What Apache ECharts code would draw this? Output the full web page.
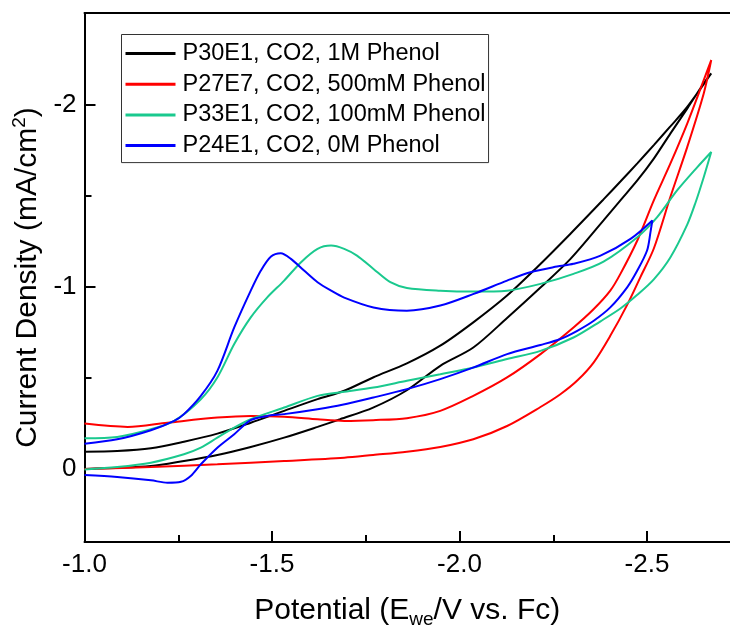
<!DOCTYPE html>
<html>
<head>
<meta charset="utf-8">
<script src="https://cdn.jsdelivr.net/npm/echarts@6/dist/echarts.min.js"></script>
<style>
  html, body { margin: 0; padding: 0; background: #fff; }
  #chart { width: 730px; height: 629px; }
</style>
</head>
<body>
<div id="chart"></div>
<script>
// axis labels / tick spacing
const xLabels = [-1.0, -1.5, -2.0, -2.5]
const yLabels = [0, -1, -2]
const xMajorStep = 0.5
const yMajorStep = 1

const legendNames = [
  'P30E1, CO2, 1M Phenol',
  'P27E7, CO2, 500mM Phenol',
  'P33E1, CO2, 100mM Phenol',
  'P24E1, CO2, 0M Phenol'
]

// P30E1 (1M phenol): forward scan then return scan
const p30E = [-1.0, -1.087, -1.177, -1.265, -1.354, -1.443, -1.532, -1.621, -1.692, -1.769, -1.859, -1.948, -2.036, -2.126, -2.206, -2.295, -2.383, -2.428, -2.473, -2.517, -2.561, -2.606, -2.670,
  -2.650, -2.606, -2.561, -2.517, -2.473, -2.428, -2.383, -2.295, -2.215, -2.126, -2.036, -1.948, -1.859, -1.769, -1.681, -1.621, -1.532, -1.443, -1.354, -1.265, -1.177, -1.0]
const p30J = [-0.095, -0.099, -0.114, -0.150, -0.194, -0.254, -0.319, -0.383, -0.429, -0.502, -0.579, -0.676, -0.804, -0.951, -1.106, -1.290, -1.478, -1.576, -1.676, -1.776, -1.878, -1.985, -2.169,
  -2.114, -1.976, -1.839, -1.702, -1.582, -1.473, -1.363, -1.152, -0.995, -0.828, -0.666, -0.566, -0.432, -0.337, -0.273, -0.231, -0.172, -0.121, -0.077, -0.044, -0.016, 0.0]

// P27E7 (500mM phenol)
const p27E = [-1.0, -1.115, -1.221, -1.354, -1.443, -1.532, -1.621, -1.692, -1.769, -1.859, -1.948, -2.036, -2.126, -2.215, -2.303, -2.357, -2.401, -2.428, -2.473, -2.517, -2.561, -2.606, -2.650, -2.670,
  -2.650, -2.606, -2.561, -2.517, -2.481, -2.446, -2.401, -2.357, -2.313, -2.268, -2.215, -2.126, -2.036, -1.948, -1.859, -1.769, -1.692, -1.532, -1.354, -1.177, -1.0]
const p27J = [-0.249, -0.231, -0.254, -0.282, -0.291, -0.287, -0.273, -0.264, -0.268, -0.279, -0.319, -0.401, -0.502, -0.630, -0.776, -0.877, -0.978, -1.070, -1.253, -1.473, -1.674, -1.894, -2.132, -2.242,
  -2.059, -1.765, -1.491, -1.209, -1.051, -0.900, -0.730, -0.585, -0.485, -0.410, -0.340, -0.236, -0.163, -0.121, -0.095, -0.077, -0.062, -0.044, -0.026, -0.011, 0.0]

// P33E1 (100mM phenol)
const p33E = [-1.0, -1.087, -1.177, -1.239, -1.310, -1.354, -1.399, -1.443, -1.487, -1.532, -1.577, -1.621, -1.657, -1.692, -1.726, -1.770, -1.815, -1.859, -1.948, -2.037, -2.126, -2.215, -2.303, -2.383, -2.473, -2.526, -2.579, -2.633, -2.670,
  -2.650, -2.628, -2.606, -2.561, -2.517, -2.473, -2.428, -2.375, -2.303, -2.215, -2.126, -2.037, -1.948, -1.859, -1.770, -1.687, -1.621, -1.532, -1.443, -1.399, -1.354, -1.310, -1.265, -1.177, -1.087, -1.0]
const p33J = [-0.169, -0.176, -0.218, -0.264, -0.383, -0.502, -0.685, -0.831, -0.941, -1.033, -1.134, -1.207, -1.225, -1.207, -1.170, -1.097, -1.024, -0.993, -0.978, -0.973, -0.978, -1.015, -1.070, -1.137, -1.271, -1.381, -1.527, -1.655, -1.738,
  -1.600, -1.460, -1.340, -1.160, -1.040, -0.955, -0.880, -0.810, -0.721, -0.648, -0.603, -0.557, -0.520, -0.484, -0.447, -0.422, -0.401, -0.337, -0.273, -0.227, -0.172, -0.117, -0.081, -0.035, -0.011, 0.002]

// P24E1 (0M phenol)
const p24E = [-1.0, -1.087, -1.177, -1.239, -1.265, -1.310, -1.354, -1.399, -1.443, -1.470, -1.497, -1.523, -1.550, -1.585, -1.621, -1.657, -1.692, -1.770, -1.859, -1.948, -2.037, -2.126, -2.188, -2.259, -2.303, -2.375, -2.455, -2.513,
  -2.508, -2.499, -2.473, -2.446, -2.401, -2.357, -2.313, -2.268, -2.215, -2.126, -2.037, -1.948, -1.859, -1.770, -1.687, -1.621, -1.532, -1.487, -1.443, -1.399, -1.354, -1.310, -1.283, -1.257, -1.221, -1.177, -1.087, -1.0]
const p24J = [-0.139, -0.163, -0.213, -0.264, -0.301, -0.401, -0.538, -0.776, -0.978, -1.088, -1.165, -1.183, -1.152, -1.088, -1.024, -0.978, -0.940, -0.886, -0.868, -0.896, -0.960, -1.033, -1.079, -1.110, -1.125, -1.170, -1.262, -1.363,
  -1.297, -1.198, -1.088, -0.996, -0.886, -0.813, -0.758, -0.713, -0.680, -0.630, -0.557, -0.493, -0.438, -0.392, -0.352, -0.328, -0.301, -0.291, -0.268, -0.191, -0.117, -0.026, 0.038, 0.070, 0.075, 0.062, 0.044, 0.033]

const lineColors = ['#000000', '#ff0000', '#1ac98e', '#0000ff']
const FONT = 'Liberation Sans'

var chart = echarts.init(document.getElementById('chart'))

function pairs(e, j) {
  return e.map((v, i) => [v, j[i]])
}

const curves = [pairs(p30E, p30J), pairs(p27E, p27J), pairs(p33E, p33J), pairs(p24E, p24J)]

// plot area: -1.0 .. -2.72 V, +0.4 .. -2.5 mA/cm2
const xRange = { min: -2.72, max: -1.0 }
const yRange = { min: -2.5, max: 0.4 }
// label/tick grid: same scale, stretched so min lands on a whole step (parts off-canvas)
const xTickRange = { min: -3.0, max: -1.0 }
const yTickRange = { min: -3.0, max: 0.4 }

function isLabel(list, v) {
  return list.some(l => Math.abs(l - v) < 1e-9)
}

const tickLine = { color: '#000', width: 2 }

const option = {
  animation: false,
  grid: [
    { left: 84.5, right: 0, top: 13, bottom: 87, outerBoundsMode: 'none' },
    { left: 84.5, right: -104.5, top: -78, bottom: 87, outerBoundsMode: 'none' }
  ],
  legend: {
    orient: 'vertical',
    left: 121.5,
    top: 34.5,
    padding: [7, 3, 5, 4],
    itemWidth: 50,
    itemHeight: 3,
    itemGap: 6.7,
    icon: 'rect',
    borderColor: '#333',
    borderWidth: 1,
    data: legendNames,
    textStyle: { fontFamily: FONT, fontSize: 23.5, color: '#000', lineHeight: 22, padding: [0, 0, 0, 2] }
  },
  xAxis: [
    {
      gridIndex: 0,
      type: 'value', inverse: true, ...xRange, position: 'bottom',
      axisLine: { show: true, onZero: false, lineStyle: { color: '#000', width: 2 } },
      axisTick: { show: false },
      axisLabel: { show: false },
      splitLine: { show: false },
      name: '{n|Potential (E}{s|we}{n|/V vs. Fc)}',
      nameLocation: 'middle',
      nameGap: 51,
      nameTextStyle: {
        rich: {
          n: { fontFamily: FONT, fontSize: 30, color: '#000', lineHeight: 36 },
          s: { fontFamily: FONT, fontSize: 19, color: '#000', lineHeight: 22, verticalAlign: 'bottom' }
        }
      }
    },
    {
      gridIndex: 0,
      type: 'value', inverse: true, ...xRange, position: 'top',
      axisLine: { show: true, onZero: false, lineStyle: { color: '#000', width: 2 } },
      axisTick: { show: false },
      axisLabel: { show: false },
      splitLine: { show: false }
    },
    {
      gridIndex: 1,
      type: 'value', inverse: true, ...xTickRange, interval: xMajorStep, position: 'bottom',
      axisLine: { show: false, onZero: false },
      axisTick: { show: true, inside: true, length: 11, lineStyle: tickLine },
      minorTick: { show: true, splitNumber: 2, length: 7, lineStyle: tickLine },
      axisLabel: {
        formatter: v => (isLabel(xLabels, v) ? v.toFixed(1) : ''),
        fontFamily: FONT, fontSize: 26, color: '#000', margin: 10
      },
      splitLine: { show: false },
      minorSplitLine: { show: false }
    }
  ],
  yAxis: [
    {
      gridIndex: 0,
      type: 'value', inverse: true, ...yRange, position: 'left',
      axisLine: { show: true, onZero: false, lineStyle: { color: '#000', width: 2 } },
      axisTick: { show: false },
      axisLabel: { show: false },
      splitLine: { show: false },
      name: '{n|Current Density (mA/cm}{p|2}{n|)}',
      nameLocation: 'middle',
      nameGap: 40,
      nameTextStyle: {
        rich: {
          n: { fontFamily: FONT, fontSize: 30, color: '#000', lineHeight: 34 },
          p: { fontFamily: FONT, fontSize: 19, color: '#000', lineHeight: 20, verticalAlign: 'top' }
        }
      }
    },
    {
      gridIndex: 1,
      type: 'value', inverse: true, ...yTickRange, interval: yMajorStep, position: 'left',
      axisLine: { show: false, onZero: false },
      axisTick: { show: true, inside: true, length: 11, lineStyle: tickLine },
      minorTick: { show: true, splitNumber: 2, length: 7, lineStyle: tickLine },
      axisLabel: {
        formatter: v => (isLabel(yLabels, v) ? String(v) : ''),
        fontFamily: FONT, fontSize: 26, color: '#000', margin: 8
      },
      splitLine: { show: false },
      minorSplitLine: { show: false }
    }
  ],
  series: curves.map((d, i) => ({
    name: legendNames[i],
    type: 'line',
    xAxisIndex: 0,
    yAxisIndex: 0,
    data: d,
    showSymbol: false,
    smooth: 0.3,
    color: lineColors[i],
    lineStyle: { color: lineColors[i], width: 2 }
  }))
}

chart.setOption(option)
</script>
</body>
</html>
